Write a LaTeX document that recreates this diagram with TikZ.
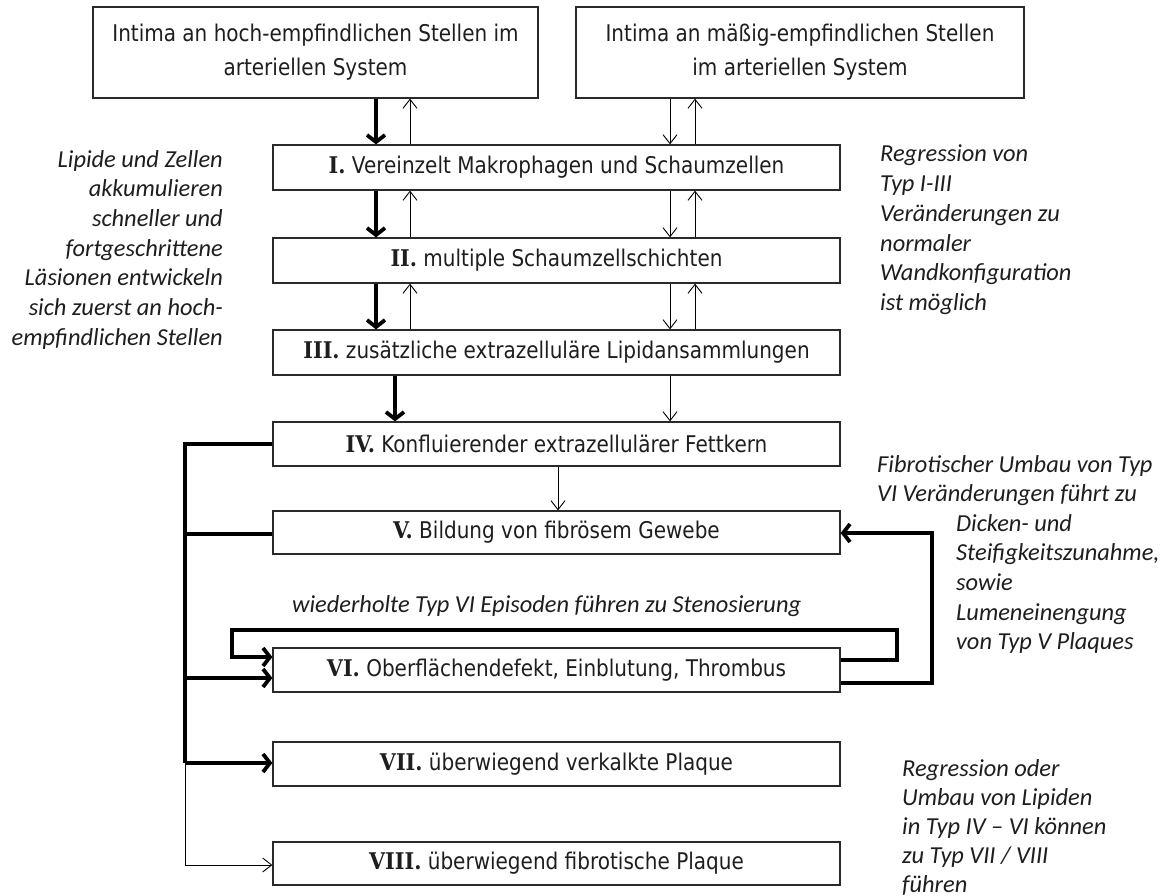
\documentclass[tikz,border=0pt]{standalone}
\usepackage{fontspec}
\usetikzlibrary{arrows.meta}
\newfontfamily\boxfont[FakeStretch=0.87]{DejaVu Sans}
\newfontfamily\notefont{Carlito}
\newfontfamily\numfont[FakeStretch=0.9]{DejaVu Serif}
\newcommand\rn[1]{{\numfont\bfseries #1}}
\definecolor{ink}{HTML}{1E1E1E}
\definecolor{boxline}{HTML}{2A2A2A}
\begin{document}
\begin{tikzpicture}[x=1pt,y=-1pt,
  box/.style={draw=boxline, line width=1.2pt, inner sep=0pt, text=ink, align=center,
    font=\boxfont\fontsize{23}{34}\selectfont},
  note/.style={inner sep=0pt, text=ink, font=\notefont\itshape\fontsize{24.4}{29.7}\selectfont},
  fat/.style={line width=3.8pt, -{Straight Barb[length=7pt,width=18pt]}},
  thin/.style={line width=0.9pt, -{Straight Barb[length=9pt,width=14pt]}},
  bar/.style={line width=3.8pt}]
\useasboundingbox (0,0) rectangle (1169,896);
\fill[white] (0,0) rectangle (1169,896);

% boxes
\node[box, minimum width=445pt, minimum height=91pt] (tl) at (315.5,52.5) {Intima an hoch-empfindlichen Stellen im\\arteriellen System};
\node[box, minimum width=448pt, minimum height=91pt] (tr) at (800,52.5) {Intima an mäßig-empfindlichen Stellen\\im arteriellen System};
\node[box, minimum width=567pt, minimum height=45pt] (b1) at (556.5,167.5) {\rn{I.} Vereinzelt Makrophagen und Schaumzellen};
\node[box, minimum width=567pt, minimum height=45pt] (b2) at (556.5,260.5) {\rn{II.} multiple Schaumzellschichten};
\node[box, minimum width=567pt, minimum height=45pt] (b3) at (556.5,352.5) {\rn{III.} zusätzliche extrazelluläre Lipidansammlungen};
\node[box, minimum width=567pt, minimum height=44pt] (b4) at (556.5,444) {\rn{IV.} Konfluierender extrazellulärer Fettkern};
\node[box, minimum width=567pt, minimum height=43pt] (b5) at (556.5,532.5) {\rn{V.} Bildung von fibrösem Gewebe};
\node[box, minimum width=567pt, minimum height=44pt] (b6) at (556.5,670) {\rn{VI.} Oberflächendefekt, Einblutung, Thrombus};
\node[box, minimum width=567pt, minimum height=44pt] (b7) at (556.5,764) {\rn{VII.} überwiegend verkalkte Plaque};
\node[box, minimum width=567pt, minimum height=43pt] (b8) at (556.5,863.5) {\rn{VIII.} überwiegend fibrotische Plaque};

% notes
\node[note, align=right, anchor=north east] (nl) at (223,150) {Lipide und Zellen\\akkumulieren\\schneller und\\fortgeschrittene\\Läsionen entwickeln\\sich zuerst an hoch-\\empfindlichen Stellen};
\node[note, align=left, anchor=north west] (nr) at (880,145) {Regression von\\Typ I-III\\Veränderungen zu\\normaler\\Wandkonfiguration\\ist möglich};
\node[note, align=left, anchor=north west] (nf1) at (877,455) {Fibrotischer Umbau von Typ\\VI Veränderungen führt zu};
\node[note, align=left, anchor=north west] (nf2) at (956,514) {Dicken- und\\Steifigkeitszunahme,\\sowie\\Lumeneinengung\\von Typ V Plaques};
\node[note, anchor=base west] (ns) at (292,612) {wiederholte Typ VI Episoden führen zu Stenosierung};
\node[note, align=left, anchor=north west, font=\notefont\itshape\fontsize{24.4}{29}\selectfont] (nb) at (902,759) {Regression oder\\Umbau von Lipiden\\in Typ IV – VI können\\zu Typ VII / VIII\\führen};

% column coordinates
\coordinate (xa) at (376,0);
\coordinate (xb) at (410,0);
\coordinate (xc) at (670,0);
\coordinate (xd) at (695,0);
\coordinate (xe) at (395,0);
\coordinate (xf) at (558,0);

% top to I
\draw[fat] (tl.south -| xa) -- (b1.north -| xa);
\draw[thin] (b1.north -| xb) -- (tl.south -| xb);
\draw[thin] (tr.south -| xc) -- (b1.north -| xc);
\draw[thin] (b1.north -| xd) -- (tr.south -| xd);
% I to II
\draw[fat] (b1.south -| xa) -- (b2.north -| xa);
\draw[thin] (b2.north -| xb) -- (b1.south -| xb);
\draw[thin] (b1.south -| xc) -- (b2.north -| xc);
\draw[thin] (b2.north -| xd) -- (b1.south -| xd);
% II to III
\draw[fat] (b2.south -| xa) -- (b3.north -| xa);
\draw[thin] (b3.north -| xb) -- (b2.south -| xb);
\draw[thin] (b2.south -| xc) -- (b3.north -| xc);
\draw[thin] (b3.north -| xd) -- (b2.south -| xd);
% III to IV, IV to V
\draw[fat] (b3.south -| xe) -- (b4.north -| xe);
\draw[thin] (b3.south -| xc) -- (b4.north -| xc);
\draw[thin] (b4.south -| xf) -- (b5.north -| xf);

% left bus
\coordinate (bx4) at (185,444);
\coordinate (bx5) at (185,534);
\coordinate (bx6) at (185,678);
\coordinate (bx7) at (185,763);
\coordinate (bx8) at (185,865);
\draw[bar] (b4.west |- bx4) -- (bx4) -- (bx7);
\draw[bar] (b5.west |- bx5) -- (bx5);
\draw[fat] (bx6) -- (b6.west |- bx6);
\draw[fat] (bx7) -- (b7.west |- bx7);
\draw[thin] (bx7) -- (bx8) -- (b8.west |- bx8);

% loop on VI
\coordinate (lp1) at (897,660);
\coordinate (lp2) at (897,630);
\coordinate (lp3) at (232,630);
\coordinate (lp4) at (232,657);
\draw[fat] (b6.east |- lp1) -- (lp1) -- (lp2) -- (lp3) -- (lp4) -- (b6.west |- lp4);
% VI back to V
\coordinate (ou1) at (932,683);
\coordinate (ou2) at (932,533);
\draw[fat] (b6.east |- ou1) -- (ou1) -- (ou2) -- (b5.east |- ou2);
\end{tikzpicture}
\end{document}
